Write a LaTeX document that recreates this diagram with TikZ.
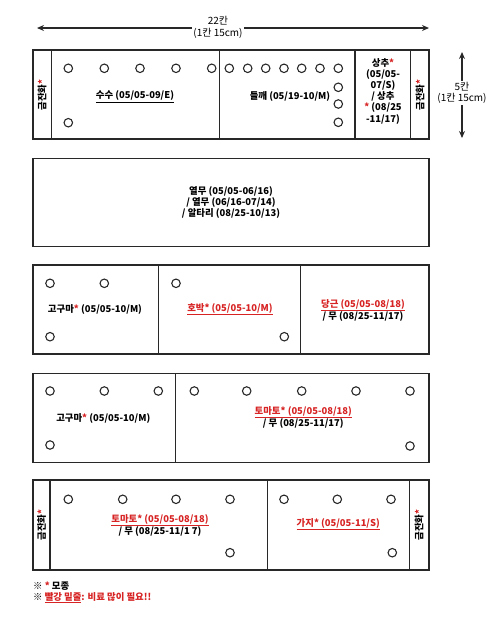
\documentclass[tikz,border=0pt]{standalone}
\usepackage{fontspec}
\setmainfont{Noto Sans CJK KR}
\usetikzlibrary{arrows.meta}
\definecolor{myred}{RGB}{215,35,35}
\definecolor{ink}{RGB}{40,40,40}
\newcommand{\rs}{\textcolor{myred}{*}}
\tikzset{
  bedline/.style={draw=ink, line width=1.4pt},
  hole/.style={circle, draw=ink, line width=1.1pt, minimum size=8.5pt, inner sep=0pt},
  lbl/.style={font=\bfseries\fontsize{9.4}{11.2}\selectfont, align=center, inner sep=0pt, text=black},
  side/.style={lbl, rotate=90},
  dim/.style={font=\fontsize{10}{11.5}\selectfont, align=center, fill=white, inner sep=1pt},
  dimarrow/.style={draw=ink, line width=1.3pt, {Stealth[length=7pt,width=6pt]}-{Stealth[length=7pt,width=6pt]}}
}
\begin{document}
\begin{tikzpicture}[x=1pt,y=-1pt]
\useasboundingbox (0,0) rectangle (500,622);

% dimension arrows
\coordinate (tl) at (37,28);
\coordinate (tr) at (429,28);
\draw[dimarrow] (tl) -- (tr);
\node[dim] (w) at (218,27.5) {22칸\\(1칸 15cm)};
\coordinate (rt) at (462,52);
\coordinate (rb) at (462,138);
\draw[dimarrow] (rt) -- (rb);
\node[dim] (h) at (462,93) {5칸\\(1칸 15cm)};

% ---------- row 1
\draw[bedline] (33,50) rectangle (429,139);
\draw[bedline] (51.7,50) -- (51.7,139);
\draw[bedline] (219.3,50) -- (219.3,139);
\draw[bedline] (355,50) -- (355,139);
\draw[bedline] (410.7,50) -- (410.7,139);
\foreach \x in {68.3,104.3,140,176,211.7,229.3,247.7,265.7,284,301.7,320,338.3}
  \node[hole] at (\x,68.3) {};
\foreach \y in {87.3,104,122.3}
  \node[hole] at (338.3,\y) {};
\node[hole] at (68.3,122.7) {};
\node[lbl] (susu) at (135,96.5) {\underline{수수 (05/05-09/E)}};
\node[lbl] (deul) at (290,96.5) {들깨 (05/19-10/M)};
\node[lbl] (sang) at (383,91) {상추\rs\\(05/05-\\07/S)\\/ 상추\\\rs\ (08/25\\-11/17)};
\node[side] (gj1) at (42,95) {금잔화\rs};
\node[side] (gj2) at (420,95) {금잔화\rs};

% ---------- row 2
\draw[bedline] (33,158.3) rectangle (429,246.7);
\node[lbl] (yeol) at (231,202.5) {열무 (05/05-06/16)\\/ 열무 (06/16-07/14)\\/ 알타리 (08/25-10/13)};

% ---------- row 3
\draw[bedline] (33,265) rectangle (429,354);
\draw[bedline] (158.3,265) -- (158.3,354);
\draw[bedline] (300.7,265) -- (300.7,354);
\node[hole] at (50,283.3) {};
\node[hole] at (104.3,283.3) {};
\node[hole] at (50,336.7) {};
\node[hole] at (176,283.3) {};
\node[hole] at (284.3,336.7) {};
\node[lbl] (goguma1) at (95,309.3) {고구마\rs\ (05/05-10/M)};
\node[lbl] (hobak) at (230,309.3) {\textcolor{myred}{\underline{호박* (05/05-10/M)}}};
\node[lbl] (danggeun) at (363,310.5) {\textcolor{myred}{\underline{당근 (05/05-08/18)}}\\/ 무 (08/25-11/17)};

% ---------- row 4
\draw[bedline] (33,373.3) rectangle (429,462.7);
\draw[bedline] (175.7,373.3) -- (175.7,462.7);
\foreach \x in {50,104.3,158.3,194.3,246.7,301.7,356,410}
  \node[hole] at (\x,391) {};
\node[hole] at (50,445) {};
\node[hole] at (410,446) {};
\node[lbl] (goguma2) at (103.3,418.3) {고구마\rs\ (05/05-10/M)};
\node[lbl] (tomato1) at (303.3,417.5) {\textcolor{myred}{\underline{토마토* (05/05-08/18)}}\\/ 무 (08/25-11/17)};

% ---------- row 5
\draw[bedline] (33,480) rectangle (429,570);
\draw[bedline] (50,480) -- (50,570);
\draw[bedline] (267.3,480) -- (267.3,570);
\draw[bedline] (409.3,480) -- (409.3,570);
\foreach \x in {68.3,122.7,176,230,284,337.3,391}
  \node[hole] at (\x,499.3) {};
\node[hole] at (230,552.7) {};
\node[hole] at (392.3,552.7) {};
\node[lbl] (tomato2) at (160,525.5) {\textcolor{myred}{\underline{토마토* (05/05-08/18)}}\\/ 무 (08/25-11/1 7)};
\node[lbl] (gaji) at (338.3,524.3) {\textcolor{myred}{\underline{가지* (05/05-11/S)}}};
\node[side] (gj3) at (41.5,525) {금잔화\rs};
\node[side] (gj4) at (419,525) {금잔화\rs};

% ---------- legend
\node[lbl, anchor=west] (leg1) at (33,585.7) {※ \rs\ 모종};
\node[lbl, anchor=west] (leg2) at (33,597.7) {※ \textcolor{myred}{\underline{빨강 밑줄}: 비료 많이 필요!!}};
\end{tikzpicture}
\end{document}
